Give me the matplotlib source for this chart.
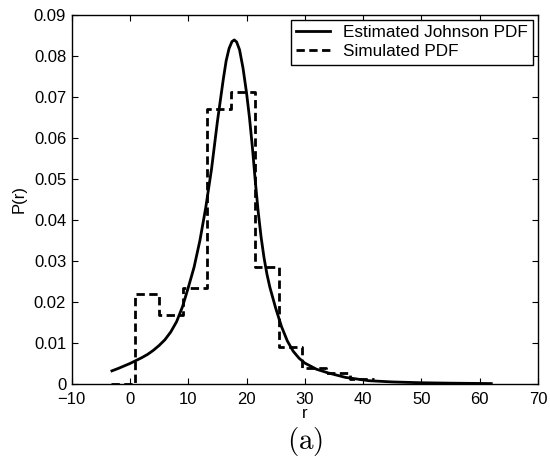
import matplotlib
matplotlib.use("Agg")
import matplotlib.pyplot as plt

# Estimated Johnson PDF
curve_r = [-3.1, -2.0, -1.0, 0.0, 1.0, 2.0, 3.0, 4.0, 5.0, 6.0, 7.0, 8.0,
           9.0, 10.0, 11.0, 12.0, 13.0, 14.0, 15.0, 16.0, 16.5, 17.0, 17.5,
           17.9, 18.3, 18.8, 19.4, 20.0, 20.5, 21.0, 21.5, 22.0, 22.5, 23.0,
           23.5, 24.0, 25.0, 26.0, 27.0, 28.0, 29.0, 30.0, 32.0, 34.0, 37.0,
           41.0, 45.0, 50.0, 55.0, 62.0]
curve_p = [0.0032, 0.0038, 0.0044, 0.0050, 0.0057, 0.0064, 0.0072, 0.0082,
           0.0094, 0.0108, 0.0127, 0.0152, 0.0188, 0.0235, 0.0285, 0.0350,
           0.0430, 0.0525, 0.0640, 0.0742, 0.0788, 0.0818, 0.0835, 0.0839,
           0.0834, 0.0815, 0.0770, 0.0710, 0.0650, 0.0578, 0.0495, 0.0420,
           0.0358, 0.0308, 0.0268, 0.0236, 0.0185, 0.0140, 0.0105, 0.0080,
           0.0063, 0.0051, 0.0036, 0.0027, 0.0016, 0.0008, 0.0005, 0.0003,
           0.0002, 0.0001]

# Simulated PDF (histogram, bin edges and heights)
hist_edges = [-3.2, 0.9, 5.0, 9.1, 13.2, 17.3, 21.4, 25.5, 29.6, 33.7, 37.8, 41.9]
hist_vals = [0.0, 0.0220, 0.0168, 0.0233, 0.0670, 0.0711, 0.0285, 0.0091,
             0.0040, 0.0026, 0.0011]

x_ticks = [-10, 0, 10, 20, 30, 40, 50, 60, 70]
y_ticks = [0, 0.01, 0.02, 0.03, 0.04, 0.05, 0.06, 0.07, 0.08, 0.09]

plt.rcParams['font.family'] = ['Liberation Sans', 'DejaVu Sans']
plt.rcParams['mathtext.fontset'] = 'cm'

fig = plt.figure(figsize=(5.5, 4.66), dpi=100)
ax = fig.add_axes([0.1304, 0.176, 0.978 - 0.1304, 0.968 - 0.176])

ax.plot(curve_r, curve_p, color='black', lw=2.0, label='Estimated Johnson PDF',
        solid_joinstyle='round')
step_x = hist_edges
step_y = hist_vals + [hist_vals[-1]]
ax.plot(step_x, step_y, drawstyle='steps-post', color='black', lw=2.0,
        dashes=(3, 1.6), label='Simulated PDF')

ax.set_xlim(-10, 70)
ax.set_ylim(0, 0.09)
ax.set_xticks(x_ticks)
ax.set_yticks(y_ticks)
ax.set_yticklabels(['0'] + [f'{v:.2f}' for v in y_ticks[1:]])
ax.tick_params(direction='in', top=True, right=True, labelsize=12,
               length=4, width=0.8)
ax.tick_params(axis='y', pad=4)
ax.tick_params(axis='x', pad=6)
for s in ax.spines.values():
    s.set_linewidth(1.0)

ax.set_xlabel('r', fontsize=12, labelpad=-1)
ax.set_ylabel('P(r)', fontsize=12, labelpad=5)

leg = ax.legend(loc='upper right', fontsize=12.3, frameon=True, fancybox=False,
                edgecolor='black', framealpha=1, handlelength=2.0,
                borderpad=0.3, labelspacing=0.25, handletextpad=0.75,
                borderaxespad=0.3)
leg.get_frame().set_linewidth(1.0)

fig.text(0.5546, 1 - 441 / 466, r'$\mathrm{(a)}$', ha='center', va='center',
         fontsize=21)

fig.savefig('out.png', dpi=100)
